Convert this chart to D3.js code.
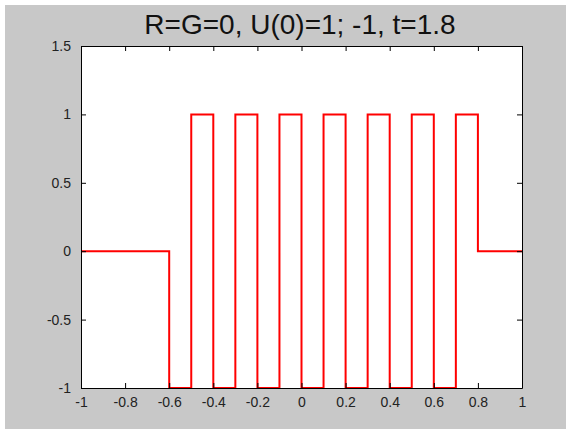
<!DOCTYPE html>
<html>
<head>
<meta charset="utf-8">
<script src="https://cdn.jsdelivr.net/npm/d3@7"></script>
<style>
  body { margin: 0; background: #fff; }
  text { font-family: "Liberation Sans", Arial, sans-serif; }
</style>
</head>
<body>
<div id="chart"></div>
<script>
// step signal: value u[i] holds from xs[i] to xs[i+1]
var xs = [-1, -0.6, -0.5, -0.4, -0.3, -0.2, -0.1, 0, 0.1, 0.2, 0.3, 0.4, 0.5, 0.6, 0.7, 0.8, 1];
var us = [0, -1, 1, -1, 1, -1, 1, -1, 1, -1, 1, -1, 1, -1, 1, 0, 0];
var xTicks = [-1, -0.8, -0.6, -0.4, -0.2, 0, 0.2, 0.4, 0.6, 0.8, 1];
var yTicks = [-1, -0.5, 0, 0.5, 1, 1.5];
var title = "R=G=0, U(0)=1; -1, t=1.8";

var svgWidth = 570, svgHeight = 435;
var margin = { top: 46, right: 48, bottom: 47, left: 81 };
var width = svgWidth - margin.left - margin.right;
var height = svgHeight - margin.top - margin.bottom;

var svg = d3.select("#chart").append("svg")
  .attr("width", svgWidth)
  .attr("height", svgHeight);

// grey figure background
svg.append("rect")
  .attr("x", 5).attr("y", 5)
  .attr("width", 561).attr("height", 424)
  .attr("fill", "#c8c8c8");

var chartGroup = svg.append("g")
  .attr("transform", `translate(${margin.left}, ${margin.top})`);

chartGroup.append("rect")
  .attr("width", width).attr("height", height)
  .attr("fill", "#fff");

var x = d3.scaleLinear().domain([-1, 1]).range([0, width]);
var y = d3.scaleLinear().domain([-1, 1.5]).range([height, 0]);

var data = xs.map((d, i) => ({ x: d, u: us[i] }));

var line = d3.line()
  .x(d => x(d.x))
  .y(d => y(d.u))
  .curve(d3.curveStepAfter);

chartGroup.append("path")
  .datum(data)
  .attr("d", line)
  .attr("fill", "none")
  .attr("stroke", "#f00")
  .attr("stroke-width", 2);

// axes, MATLAB style: ticks inward on all four sides
var fmt = d => String(d);
var tickLen = 5;

var bottom = chartGroup.append("g")
  .attr("transform", `translate(0, ${height})`)
  .call(d3.axisBottom(x).tickValues(xTicks).tickFormat(fmt).tickSizeInner(-tickLen).tickSizeOuter(0).tickPadding(9));
var top_ = chartGroup.append("g")
  .call(d3.axisTop(x).tickValues(xTicks).tickFormat("").tickSizeInner(-tickLen).tickSizeOuter(0));
var left = chartGroup.append("g")
  .call(d3.axisLeft(y).tickValues(yTicks).tickFormat(fmt).tickSizeInner(-tickLen).tickSizeOuter(0).tickPadding(10));
var right = chartGroup.append("g")
  .attr("transform", `translate(${width}, 0)`)
  .call(d3.axisRight(y).tickValues(yTicks).tickFormat("").tickSizeInner(-tickLen).tickSizeOuter(0));

[bottom, top_, left, right].forEach(function(g) {
  g.selectAll("path, line").attr("stroke", "#000");
  g.selectAll("text")
    .attr("font-size", "14px")
    .attr("fill", "#222")
    .style("font-family", "'Liberation Sans', Arial, sans-serif");
});

// title
svg.append("text")
  .attr("x", 300)
  .attr("y", 34)
  .attr("text-anchor", "middle")
  .attr("font-size", "28px")
  .attr("fill", "#111")
  .text(title);
</script>
</body>
</html>
